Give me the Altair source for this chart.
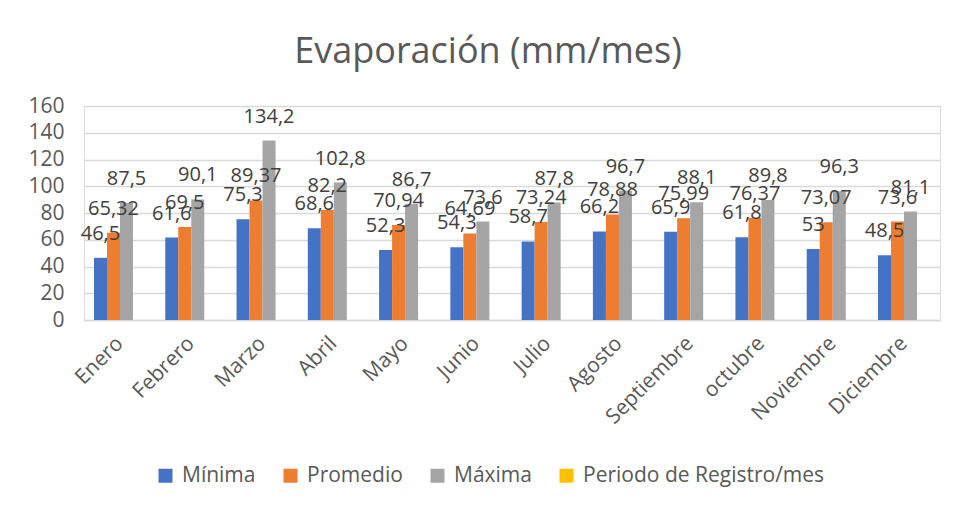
import altair as alt
import pandas as pd

meses = ["Enero", "Febrero", "Marzo", "Abril", "Mayo", "Junio", "Julio",
         "Agosto", "Septiembre", "octubre", "Noviembre", "Diciembre"]
series = ["Mínima", "Promedio", "Máxima", "Periodo de Registro/mes"]
colores = ["#4472C4", "#ED7D31", "#A5A5A5", "#FFC000"]
minima = [46.5, 61.6, 75.3, 68.6, 52.3, 54.3, 58.7, 66.2, 65.9, 61.8, 53, 48.5]
promedio = [65.32, 69.5, 89.37, 82.2, 70.94, 64.69, 73.24, 78.88, 75.99, 76.37, 73.07, 73.6]
maxima = [87.5, 90.1, 134.2, 102.8, 86.7, 73.6, 87.8, 96.7, 88.1, 89.8, 96.3, 81.1]

rows = []
for name, vals in zip(series[:3], [minima, promedio, maxima]):
    for m, v in zip(meses, vals):
        rows.append({"mes": m, "serie": name, "valor": v,
                     "etiqueta": str(v).replace(".", ",")})
df = pd.DataFrame(rows)

x = alt.X("mes:N", sort=meses, title=None,
          scale=alt.Scale(paddingInner=0.27, paddingOuter=0.14),
          axis=alt.Axis(labelAngle=-45, labelAlign="right", labelBaseline="middle",
                        labelFontSize=21, labelFont="Open Sans", labelColor="#595959",
                        labelPadding=20, ticks=False, domainColor="#d9d9d9",
                        domainWidth=1.5, grid=False))
xo = alt.XOffset("serie:N", sort=series, scale=alt.Scale(domain=series, paddingInner=0, paddingOuter=0))
y = alt.Y("valor:Q", title=None,
          scale=alt.Scale(domain=[0, 160], nice=False),
          axis=alt.Axis(values=list(range(0, 161, 20)), labelFontSize=21,
                        labelFont="Open Sans", labelColor="#595959", labelPadding=20,
                        domain=False, ticks=False, gridColor="#d9d9d9", gridWidth=1.5))

bars = alt.Chart(df).mark_bar().encode(
    x=x, xOffset=xo, y=y,
    color=alt.Color("serie:N", scale=alt.Scale(domain=series, range=colores),
                    legend=alt.Legend(title=None, orient="none", direction="horizontal",
                                      legendX=71, legendY=359, symbolType="square",
                                      symbolSize=196, symbolStrokeWidth=0,
                                      labelFontSize=21, labelFont="Open Sans",
                                      labelColor="#595959", columnPadding=24,
                                      labelOffset=6, labelLimit=400)),
)

labels = alt.Chart(df).mark_text(fontSize=20, font="Open Sans", color="#404040",
                                 baseline="alphabetic", dy=-18).encode(
    x=x, xOffset=xo, y=y, text="etiqueta:N"
)

chart = alt.layer(bars, labels).properties(
    width=856, height=214,
    title=alt.TitleParams("Evaporación (mm/mes)", fontSize=36, font="Open Sans",
                          fontWeight="normal", color="#595959", offset=24, dx=-24),
    autosize=alt.AutoSizeParams(type="none"),
    padding={"left": 76, "top": 98, "right": 10, "bottom": 178},
).configure_view(stroke=None).configure(background="white")

chart.save("out.html", embed_options={"renderer": "svg", "actions": False})
